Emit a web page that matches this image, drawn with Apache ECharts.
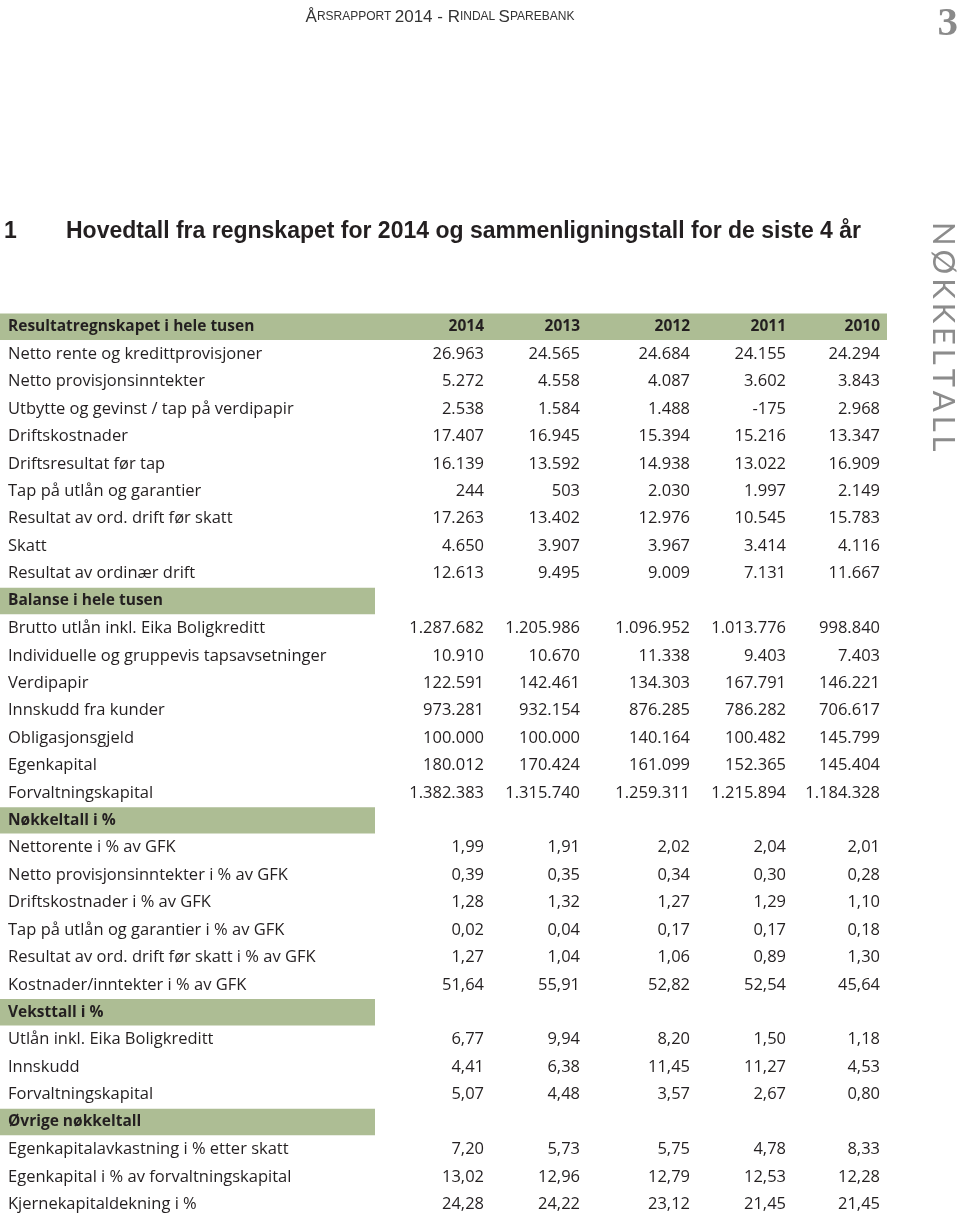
<!DOCTYPE html>
<html>
<head>
<meta charset="utf-8">
<script src="https://cdn.jsdelivr.net/npm/echarts@6/dist/echarts.min.js"></script>
<style>
  html, body { margin: 0; padding: 0; background: #fff; }
  #nokkeltall { width: 960px; height: 1218px; }
</style>
</head>
<body>
<div id="nokkeltall"></div>
<script>
// kolonner
const years = ['2014', '2013', '2012', '2011', '2010']

// Resultatregnskapet i hele tusen
const resultatLabels = [
  'Netto rente og kredittprovisjoner',
  'Netto provisjonsinntekter',
  'Utbytte og gevinst / tap på verdipapir',
  'Driftskostnader',
  'Driftsresultat før tap',
  'Tap på utlån og garantier',
  'Resultat av ord. drift før skatt',
  'Skatt',
  'Resultat av ordinær drift',
]
const resultatValues = [
  [26963, 24565, 24684, 24155, 24294],
  [5272, 4558, 4087, 3602, 3843],
  [2538, 1584, 1488, -175, 2968],
  [17407, 16945, 15394, 15216, 13347],
  [16139, 13592, 14938, 13022, 16909],
  [244, 503, 2030, 1997, 2149],
  [17263, 13402, 12976, 10545, 15783],
  [4650, 3907, 3967, 3414, 4116],
  [12613, 9495, 9009, 7131, 11667],
]

// Balanse i hele tusen
const balanseLabels = [
  'Brutto utlån inkl. Eika Boligkreditt',
  'Individuelle og gruppevis tapsavsetninger',
  'Verdipapir',
  'Innskudd fra kunder',
  'Obligasjonsgjeld',
  'Egenkapital',
  'Forvaltningskapital',
]
const balanseValues = [
  [1287682, 1205986, 1096952, 1013776, 998840],
  [10910, 10670, 11338, 9403, 7403],
  [122591, 142461, 134303, 167791, 146221],
  [973281, 932154, 876285, 786282, 706617],
  [100000, 100000, 140164, 100482, 145799],
  [180012, 170424, 161099, 152365, 145404],
  [1382383, 1315740, 1259311, 1215894, 1184328],
]

// Nøkkeltall i %
const nokkelLabels = [
  'Nettorente i % av GFK',
  'Netto provisjonsinntekter i % av GFK',
  'Driftskostnader i % av GFK',
  'Tap på utlån og garantier i % av GFK',
  'Resultat av ord. drift før skatt i % av GFK',
  'Kostnader/inntekter i % av GFK',
]
const nokkelValues = [
  [1.99, 1.91, 2.02, 2.04, 2.01],
  [0.39, 0.35, 0.34, 0.30, 0.28],
  [1.28, 1.32, 1.27, 1.29, 1.10],
  [0.02, 0.04, 0.17, 0.17, 0.18],
  [1.27, 1.04, 1.06, 0.89, 1.30],
  [51.64, 55.91, 52.82, 52.54, 45.64],
]

// Veksttall i %
const vekstLabels = ['Utlån inkl. Eika Boligkreditt', 'Innskudd', 'Forvaltningskapital']
const vekstValues = [
  [6.77, 9.94, 8.20, 1.50, 1.18],
  [4.41, 6.38, 11.45, 11.27, 4.53],
  [5.07, 4.48, 3.57, 2.67, 0.80],
]

// Øvrige nøkkeltall
const ovrigeLabels = [
  'Egenkapitalavkastning i % etter skatt',
  'Egenkapital i % av forvaltningskapital',
  'Kjernekapitaldekning i %',
]
const ovrigeValues = [
  [7.20, 5.73, 5.75, 4.78, 8.33],
  [13.02, 12.96, 12.79, 12.53, 12.28],
  [24.28, 24.22, 23.12, 21.45, 21.45],
]

// layout: høyrekant for hver årskolonne (px på x-aksen 0..960)
const colRight = [484, 580, 690, 786, 880]
const labelLeft = 8
const bandGreen = '#adbd94'
const textColor = '#231f20'
const baseFont = "'Open Sans', 'DejaVu Sans', sans-serif"

function fmtInt(v) {
  const s = String(Math.abs(v)).replace(/\B(?=(\d{3})+(?!\d))/g, '.')
  return (v < 0 ? '-' : '') + s
}
function fmtPct(v) {
  return v.toFixed(2).replace('.', ',')
}

// bygg radene
const rows = []
rows.push({ kind: 'header', label: 'Resultatregnskapet i hele tusen', cells: years })
resultatLabels.forEach((l, i) => rows.push({ kind: 'row', label: l, cells: resultatValues[i].map(fmtInt) }))
rows.push({ kind: 'section', label: 'Balanse i hele tusen', cells: [] })
balanseLabels.forEach((l, i) => rows.push({ kind: 'row', label: l, cells: balanseValues[i].map(fmtInt) }))
rows.push({ kind: 'section', label: 'Nøkkeltall i %', cells: [] })
nokkelLabels.forEach((l, i) => rows.push({ kind: 'row', label: l, cells: nokkelValues[i].map(fmtPct) }))
rows.push({ kind: 'section', label: 'Veksttall i %', cells: [] })
vekstLabels.forEach((l, i) => rows.push({ kind: 'row', label: l, cells: vekstValues[i].map(fmtPct) }))
rows.push({ kind: 'section', label: 'Øvrige nøkkeltall', cells: [] })
ovrigeLabels.forEach((l, i) => rows.push({ kind: 'row', label: l, cells: ovrigeValues[i].map(fmtPct) }))

function renderRow(params, api) {
  const idx = api.value(1)
  const row = rows[idx]
  const h = api.size([0, 1])[1]
  const y = api.coord([0, idx])[1]
  const children = []
  const bold = row.kind !== 'row'
  const font = bold ? 'bold 15.5px ' + baseFont : '16.5px ' + baseFont
  if (row.kind === 'header' || row.kind === 'section') {
    const x0 = api.coord([0, idx])[0]
    const x1 = api.coord([row.kind === 'header' ? 887 : 375, idx])[0]
    children.push({
      type: 'rect',
      shape: { x: x0, y: y - h / 2 + 0.5, width: x1 - x0, height: h - 1 },
      style: { fill: bandGreen },
    })
  }
  children.push({
    type: 'text',
    style: {
      x: api.coord([labelLeft, idx])[0],
      y: y,
      text: row.label,
      font: font,
      fill: textColor,
      align: 'left',
      verticalAlign: 'middle',
    },
  })
  row.cells.forEach((c, j) => {
    children.push({
      type: 'text',
      style: {
        x: api.coord([colRight[j], idx])[0],
        y: y,
        text: c,
        font: font,
        fill: textColor,
        align: 'right',
        verticalAlign: 'middle',
      },
    })
  })
  return { type: 'group', children: children }
}

const chart = echarts.init(document.getElementById('nokkeltall'))
chart.setOption({
  animation: false,
  backgroundColor: '#fff',
  grid: { left: 0, right: 0, top: 313, bottom: 0 },
  xAxis: { type: 'value', min: 0, max: 960, show: false },
  yAxis: {
    type: 'category',
    inverse: true,
    show: false,
    data: rows.map((r, i) => String(i)),
  },
  graphic: [
    {
      type: 'text',
      x: 440,
      y: 17,
      style: {
        text: '{b|Å}{s|RSRAPPORT} {b|2014 - R}{s|INDAL} {b|S}{s|PAREBANK}',
        align: 'center',
        verticalAlign: 'middle',
        fill: '#333',
        rich: {
          b: { fontSize: 17, fontFamily: "'Liberation Sans Narrow', 'Liberation Sans', sans-serif", fill: '#333' },
          s: { fontSize: 12, fontFamily: "'Liberation Sans Narrow', 'Liberation Sans', sans-serif", fill: '#333' },
        },
      },
    },
    {
      type: 'text',
      x: 958,
      y: 24,
      style: {
        text: '3',
        font: "bold 41px 'Liberation Serif', serif",
        fill: '#8a8a8a',
        align: 'right',
        verticalAlign: 'middle',
      },
    },
    {
      type: 'text',
      x: 4,
      y: 232,
      style: {
        text: '1',
        font: "bold 23px 'Liberation Sans', sans-serif",
        fill: '#231f20',
        verticalAlign: 'middle',
      },
    },
    {
      type: 'text',
      x: 66,
      y: 232,
      style: {
        text: 'Hovedtall fra regnskapet for 2014 og sammenligningstall for de siste 4 år',
        font: "bold 23px 'Liberation Sans', sans-serif",
        fill: '#231f20',
        verticalAlign: 'middle',
      },
    },
    {
      type: 'text',
      x: 943,
      y: 222,
      rotation: -Math.PI / 2,
      style: {
        text: 'N\u2009Ø\u2009K\u2009K\u2009E\u2009L\u2009T\u2009A\u2009L\u2009L',
        font: "400 31px Lato, 'Open Sans', sans-serif",
        fill: '#8c8c8c',
        align: 'left',
        verticalAlign: 'middle',
      },
    },
  ],
  series: [
    {
      type: 'custom',
      clip: false,
      silent: true,
      encode: { x: 0, y: 1 },
      renderItem: renderRow,
      data: rows.map((r, i) => [0, i]),
    },
  ],
})
</script>
</body>
</html>
